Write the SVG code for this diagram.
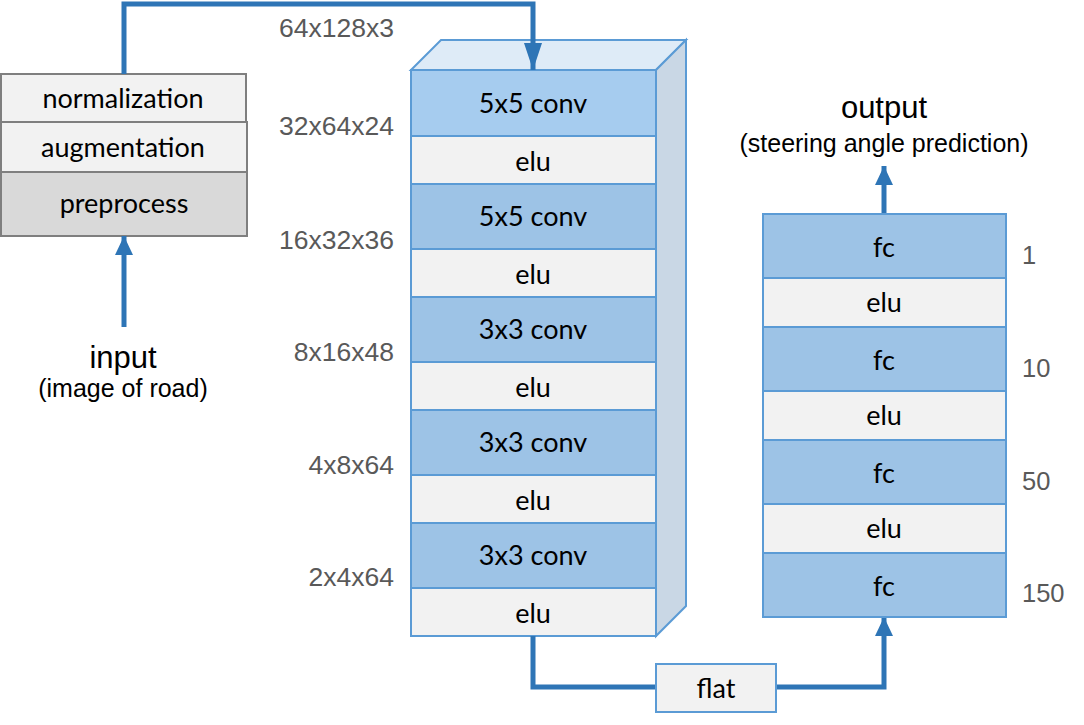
<svg xmlns="http://www.w3.org/2000/svg" width="1084" height="725" viewBox="0 0 1084 725">
<style>
.lay{font-family:Lato,"Open Sans",sans-serif;font-size:27px;fill:#000;text-anchor:middle}
.dim{font-family:"Liberation Sans",Arial,sans-serif;font-size:26.5px;fill:#595959}
.dimr{font-family:"Liberation Sans",Arial,sans-serif;font-size:25.5px;fill:#595959}
.big{font-family:"Liberation Sans",Arial,sans-serif;font-size:31px;fill:#000;text-anchor:middle}
.sub{font-family:"Liberation Sans",Arial,sans-serif;font-size:25px;fill:#000;text-anchor:middle}
.conv{fill:#9DC3E6;stroke:#5B9BD5;stroke-width:2}
.conv1{fill:#A6CCEF;stroke:#5B9BD5;stroke-width:2}
.elu{fill:#F2F2F2;stroke:#5B9BD5;stroke-width:2}
.pre{fill:#F2F2F2;stroke:#7F7F7F;stroke-width:2}
.pre2{fill:#D9D9D9;stroke:#7F7F7F;stroke-width:2}
.wire{fill:none;stroke:#2E75B6;stroke-width:5}
</style>
<defs>
<marker id="ah" markerUnits="userSpaceOnUse" markerWidth="20" markerHeight="20" viewBox="0 0 20 20" refX="19" refY="10" orient="auto">
<path d="M0,1 L19,10 L0,19 Z" fill="#2E75B6"/>
</marker>
<marker id="ahl" markerUnits="userSpaceOnUse" markerWidth="28" markerHeight="20" viewBox="0 0 28 20" refX="27" refY="10" orient="auto">
<path d="M0,1 L27,10 L0,19 Z" fill="#2E75B6"/>
</marker>
</defs>

<g id="preprocess-stack">
<rect class="pre" x="1" y="74" width="245" height="48"/>
<text class="lay" x="123" y="108">normalization</text>
<rect class="pre" x="1" y="122" width="246" height="50"/>
<text class="lay" x="123" y="157">augmentation</text>
<rect class="pre2" x="1" y="172" width="246" height="64"/>
<text class="lay" x="124" y="213">preprocess</text>
</g>

<g id="input-label">
<text class="big" x="123" y="368">input</text>
<text class="sub" x="123" y="397">(image of road)</text>
</g>

<g id="conv-block">
<path d="M411,70 L441,40 L686,40 L656,70 Z" fill="#DEEBF7" stroke="#5B9BD5" stroke-width="2"/>
<path d="M656,70 L686,40 L686,606 L656,636 Z" fill="#C9D7E5" stroke="#5B9BD5" stroke-width="2"/>
<rect class="conv1" x="411" y="70" width="245" height="66"/>
<text class="lay" x="533" y="113">5x5 conv</text>
<rect class="elu" x="411" y="136" width="245" height="48"/>
<text class="lay" x="533" y="171">elu</text>
<rect class="conv" x="411" y="184" width="245" height="65"/>
<text class="lay" x="533" y="226">5x5 conv</text>
<rect class="elu" x="411" y="249" width="245" height="48"/>
<text class="lay" x="533" y="284">elu</text>
<rect class="conv" x="411" y="297" width="245" height="65"/>
<text class="lay" x="533" y="339">3x3 conv</text>
<rect class="elu" x="411" y="362" width="245" height="48"/>
<text class="lay" x="533" y="397">elu</text>
<rect class="conv" x="411" y="410" width="245" height="65"/>
<text class="lay" x="533" y="452">3x3 conv</text>
<rect class="elu" x="411" y="475" width="245" height="48"/>
<text class="lay" x="533" y="510">elu</text>
<rect class="conv" x="411" y="523" width="245" height="65"/>
<text class="lay" x="533" y="565">3x3 conv</text>
<rect class="elu" x="411" y="588" width="245" height="48"/>
<text class="lay" x="533" y="623">elu</text>
</g>

<g id="connectors">
<path class="wire" d="M124,74 V4 H533 V70" marker-end="url(#ahl)"/>
<path class="wire" d="M124,327 V236" marker-end="url(#ah)"/>
<path class="wire" d="M533,636 V687 H656"/>
<path class="wire" d="M776,687 H884 V617" marker-end="url(#ah)"/>
<path class="wire" d="M884,214 V166" marker-end="url(#ah)"/>
</g>

<g id="dims-left" text-anchor="end">
<text class="dim" x="394" y="37">64x128x3</text>
<text class="dim" x="394" y="135">32x64x24</text>
<text class="dim" x="394" y="249">16x32x36</text>
<text class="dim" x="394" y="361">8x16x48</text>
<text class="dim" x="394" y="474">4x8x64</text>
<text class="dim" x="394" y="586">2x4x64</text>
</g>

<g id="flat">
<rect class="elu" x="656" y="664" width="120" height="48"/>
<text class="lay" x="716" y="698">flat</text>
</g>

<g id="fc-stack">
<rect class="conv" x="763" y="214" width="243" height="64"/>
<text class="lay" x="884" y="257">fc</text>
<rect class="elu" x="763" y="278" width="243" height="49"/>
<text class="lay" x="884" y="312">elu</text>
<rect class="conv" x="763" y="327" width="243" height="64"/>
<text class="lay" x="884" y="370">fc</text>
<rect class="elu" x="763" y="391" width="243" height="49"/>
<text class="lay" x="884" y="425">elu</text>
<rect class="conv" x="763" y="440" width="243" height="64"/>
<text class="lay" x="884" y="483">fc</text>
<rect class="elu" x="763" y="504" width="243" height="49"/>
<text class="lay" x="884" y="538">elu</text>
<rect class="conv" x="763" y="553" width="243" height="64"/>
<text class="lay" x="884" y="596">fc</text>
</g>

<g id="dims-right">
<text class="dimr" x="1022" y="264">1</text>
<text class="dimr" x="1022" y="377">10</text>
<text class="dimr" x="1022" y="490">50</text>
<text class="dimr" x="1022" y="602">150</text>
</g>

<g id="output-label">
<text class="big" x="884" y="118">output</text>
<text class="sub" x="884" y="152">(steering angle prediction)</text>
</g>
</svg>
